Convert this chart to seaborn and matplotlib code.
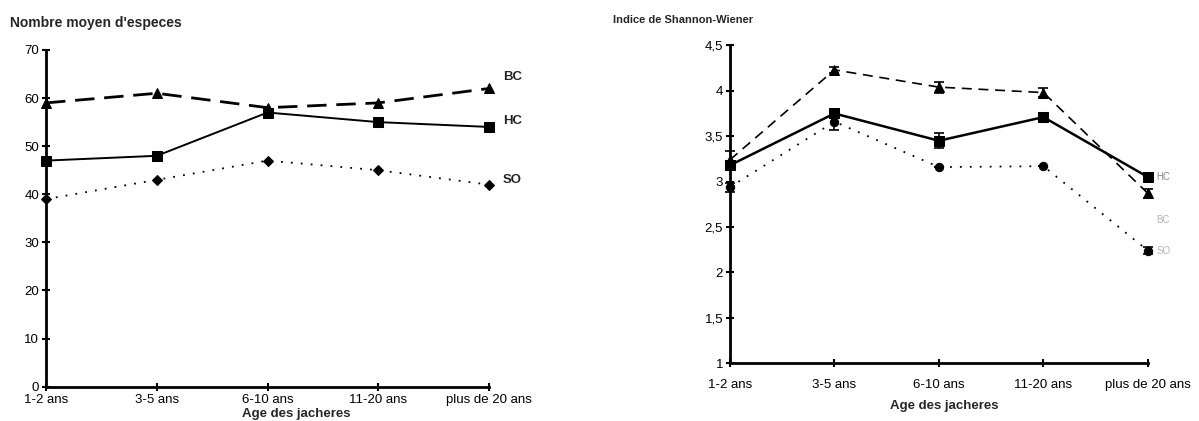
import matplotlib
matplotlib.use("Agg")
import matplotlib.pyplot as plt
import seaborn as sns
import pandas as pd

# ---- data ----
ages = ["1-2 ans", "3-5 ans", "6-10 ans", "11-20 ans", "plus de 20 ans"]
series = ["BC", "HC", "SO"]

esp_BC = [59, 61, 58, 59, 62]
esp_HC = [47, 48, 57, 55, 54]
esp_SO = [39, 43, 47, 45, 42]

sh_BC = [3.24, 4.23, 4.04, 3.98, 2.87]
sh_HC = [3.18, 3.75, 3.45, 3.71, 3.05]
sh_SO = [2.94, 3.66, 3.16, 3.17, 2.24]
err_BC = [0.10, 0.03, 0.06, 0.05, 0.05]
err_HC = [0.05, 0.04, 0.08, 0.05, 0.05]
err_SO = [0.05, 0.09, 0.00, 0.00, 0.04]

left_yticks = [0, 10, 20, 30, 40, 50, 60, 70]
right_yticks = [1, 1.5, 2, 2.5, 3, 3.5, 4, 4.5]
right_yticklabels = ["1", "1,5", "2", "2,5", "3", "3,5", "4", "4,5"]

sns.set_theme(style="white")
plt.rcParams["font.family"] = ["Liberation Sans", "DejaVu Sans"]

fig = plt.figure(figsize=(11.99, 4.21), dpi=100)
axL = fig.add_axes([0.0384, 0.0815, 0.3695, 0.7998])
axR = fig.add_axes([0.6088, 0.1370, 0.3486, 0.7553])

pos = list(range(len(ages)))

def long_df(vals):
    rows = []
    for s, v in zip(series, vals):
        for p, y in zip(pos, v):
            rows.append({"x": p, "y": y, "serie": s})
    return pd.DataFrame(rows)

# ---- left panel ----
dfL = long_df([esp_BC, esp_HC, esp_SO])
stylesL = {
    "BC": dict(ls=(0, (7, 3.5)), lw=2.0, marker="^", ms=7),
    "HC": dict(ls="-", lw=1.4, marker="s", ms=7),
    "SO": dict(ls=(0, (1, 4.5)), lw=1.3, marker="D", ms=5),
}
for s in series:
    d = dfL[dfL.serie == s]
    st = stylesL[s]
    sns.lineplot(data=d, x="x", y="y", ax=axL, color="black", linewidth=st["lw"],
                 linestyle=st["ls"], marker=st["marker"], markersize=st["ms"],
                 markeredgecolor="black", markerfacecolor="black", legend=False,
                 clip_on=False)
axL.set_xlim(0, 4)
axL.set_ylim(0, 70)
axL.set_yticks(left_yticks)
axL.set_xticks(pos)
axL.set_xticklabels(ages)
axL.set_xlabel("Age des jacheres", fontsize=9.5, fontweight="bold")
axL.xaxis.set_label_coords(0.564, -0.064)
axL.set_ylabel("")
offL = {"BC": 8, "HC": 4, "SO": 3}
for s, v in zip(series, [esp_BC, esp_HC, esp_SO]):
    axL.annotate(s, xy=(4, v[-1]), xytext=(10, offL[s]),
                 textcoords="offset points", fontsize=9.5, fontweight="bold",
                 va="center", ha="left", annotation_clip=False)
fig.text(0.008, 0.945, "Nombre moyen d'especes", fontsize=10, fontweight="bold",
         ha="left", va="center")

# ---- right panel ----
dfR = long_df([sh_BC, sh_HC, sh_SO])
stylesR = {
    "BC": dict(ls=(0, (6, 4)), lw=1.2, marker="^", ms=7),
    "HC": dict(ls="-", lw=1.8, marker="s", ms=7),
    "SO": dict(ls=(0, (1, 4.5)), lw=1.3, marker="o", ms=6),
}
for s, errs in zip(series, [err_BC, err_HC, err_SO]):
    d = dfR[dfR.serie == s]
    st = stylesR[s]
    sns.lineplot(data=d, x="x", y="y", ax=axR, color="black", linewidth=st["lw"],
                 linestyle=st["ls"], marker=st["marker"], markersize=st["ms"],
                 markeredgecolor="black", markerfacecolor="black", legend=False,
                 clip_on=False)
    axR.errorbar(d["x"], d["y"], yerr=errs, fmt="none", ecolor="black",
                 elinewidth=1.2, capsize=3.5, capthick=1.2, clip_on=False)
axR.set_xlim(0, 4)
axR.set_ylim(1, 4.5)
axR.set_yticks(right_yticks)
axR.set_yticklabels(right_yticklabels)
axR.set_xticks(pos)
axR.set_xticklabels(ages)
axR.set_xlabel("Age des jacheres", fontsize=9.5, fontweight="bold")
axR.xaxis.set_label_coords(0.513, -0.115)
axR.set_ylabel("")
lab_off = {"HC": (6, 0), "BC": (6, -19), "SO": (6, 0)}
lab_col = {"HC": "#888888", "BC": "#b5b5b5", "SO": "#b5b5b5"}
for s, v in zip(series, [sh_BC, sh_HC, sh_SO]):
    axR.annotate(s, xy=(4, v[-1]), xytext=lab_off[s], textcoords="offset points",
                 fontsize=7, color=lab_col[s], va="center", ha="left",
                 annotation_clip=False)
fig.text(0.511, 0.952, "Indice de Shannon-Wiener", fontsize=8, fontweight="bold",
         ha="left", va="center")

for ax in (axL, axR):
    sns.despine(ax=ax)
    ax.spines["left"].set_linewidth(2)
    ax.spines["bottom"].set_linewidth(2)
    ax.spines["left"].set_color("black")
    ax.spines["bottom"].set_color("black")
    ax.tick_params(axis="both", direction="inout", length=6, width=1.5,
                   colors="black", labelsize=9.5, pad=2, left=True, bottom=True)
    ax.grid(False)
    ax.set_facecolor("white")
axR.tick_params(axis="x", pad=8)

fig.savefig("out.png", dpi=100, facecolor="white")
